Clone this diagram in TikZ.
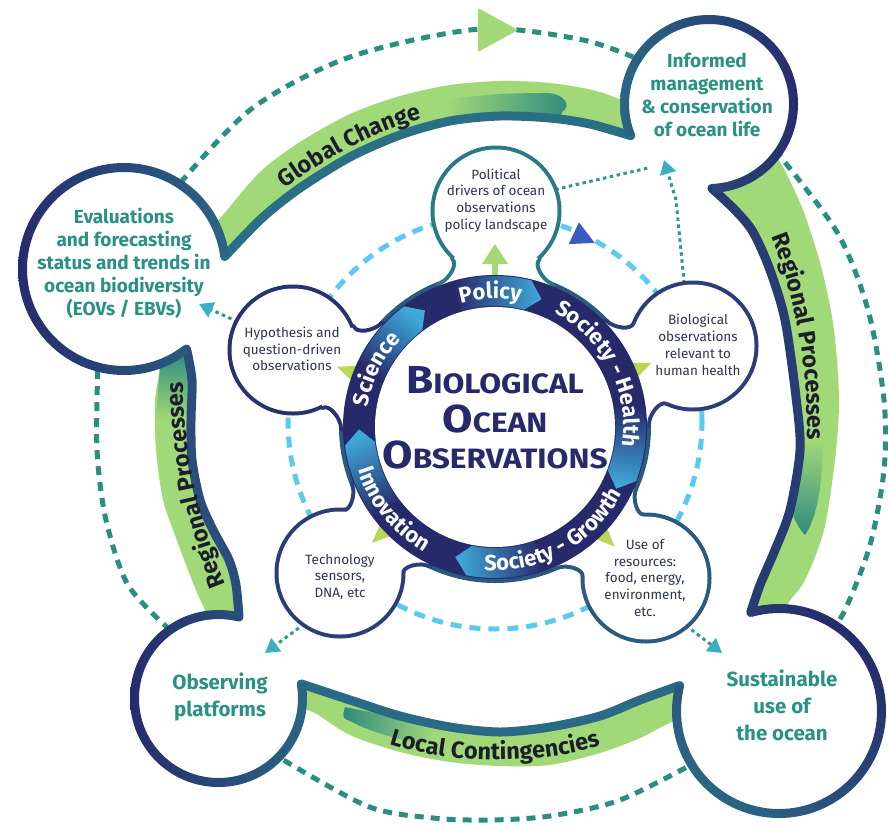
\documentclass[tikz,border=0pt]{standalone}
\usepackage{fontspec}
\setmainfont{Fira Sans}
\usetikzlibrary{decorations.text,arrows.meta,calc}
\definecolor{navy}{HTML}{262C6B}
\definecolor{steel}{HTML}{2B6684}
\definecolor{tealtxt}{HTML}{2A9282}
\definecolor{bandgreen}{HTML}{A2D978}
\definecolor{chevteal}{HTML}{2E8A80}
\definecolor{dashteal}{HTML}{2A8F80}
\definecolor{dotteal}{HTML}{2A9A8E}
\definecolor{ltblue}{HTML}{5CCAF0}
\definecolor{cyanhead}{HTML}{3AAFC4}
\definecolor{lime}{HTML}{BAD654}
\definecolor{lgreen}{HTML}{A3D977}
\definecolor{bluehead}{HTML}{3A5CC0}
\definecolor{ringnavy}{HTML}{262A6B}
\definecolor{ringlight}{HTML}{3FA9DA}
\definecolor{ringout}{HTML}{2B5A7E}
\definecolor{bubtxt}{HTML}{2E3552}
\definecolor{bandtxt}{HTML}{1B1D2B}
\definecolor{polc}{HTML}{2A7A86}
\definecolor{bioc}{HTML}{2C3D79}
\definecolor{usec}{HTML}{2B5A80}
\definecolor{techc}{HTML}{2B3E78}
\definecolor{hypc}{HTML}{283270}
\definecolor{gcb}{HTML}{2A6F84}
\definecolor{rrb}{HTML}{283C74}
\definecolor{lcb}{HTML}{2A6A85}
\definecolor{rlb}{HTML}{2B4D7C}
\newcommand\bandfont{\fontsize{23.5}{23.5}\selectfont\bfseries\color{bandtxt}}
\newcommand\ringfont{\fontsize{22}{22}\selectfont\bfseries\color{white}}
\newcommand\capsc[2]{\scalebox{1.13}[1]{{\fontsize{39}{39}\selectfont #1}{\fontsize{28}{28}\selectfont #2}}}
\begin{document}
\begin{tikzpicture}[x=1pt,y=1pt,line join=round,
  outerdash/.style={draw=dashteal, line width=5pt, dash pattern=on 9pt off 7pt},
  innerdash/.style={draw=ltblue, line width=5pt, dash pattern=on 11pt off 8pt},
  dotline/.style={draw=dotteal, line width=3pt, dash pattern=on 3.5pt off 3.5pt},
  dotarrow/.style={dotline, -{Triangle[length=14pt,width=16pt,color=cyanhead,fill=cyanhead]}},
  bandborder/.style={line width=9pt, line cap=round},
  bigtxt/.style={font=\fontsize{19}{23}\selectfont\bfseries, text=tealtxt, align=center},
  bigtxtL/.style={font=\fontsize{20.5}{27}\selectfont\bfseries, text=tealtxt, align=center},
  bubtext/.style={font=\fontsize{13.5}{16.8}\selectfont, text=bubtxt, align=center},
  ringtext/.style={decorate, decoration={text along path, text align=center, text={|\ringfont|#1}}},
  bandtext/.style={decorate, decoration={text along path, text align=center, text={|\bandfont|#1}}}
]
\useasboundingbox (0,0) rectangle (888,-825);
\fill[white] (0,0) rectangle (888,-825);

\coordinate (C) at (495,-427);
\coordinate (CD) at (495,-422);
\coordinate (ev) at (124,-269);
\coordinate (inf) at (709,-104);
\coordinate (sus) at (779,-711);
\coordinate (obs) at (218.5,-698.5);
\coordinate (pol) at (496,-211);
\coordinate (bio) at (693,-346);
\coordinate (use) at (646,-578);
\coordinate (tech) at (340,-573);
\coordinate (hyp) at (293,-350);

% ---------- outer dashed connectors
\draw[outerdash] plot[smooth] coordinates {(170,-195) (250,-110) (350,-57) (480,-29) (583,-40) (645,-62)};
\draw[outerdash] plot[smooth] coordinates {(775,-150) (837,-232) (868,-310) (884,-400) (884,-470) (870,-545) (845,-610) (825,-640)};
\draw[outerdash] plot[smooth] coordinates {(700,-760) (620,-800) (550,-816) (490,-820) (433,-818) (367,-806) (275,-755)};
\draw[outerdash] plot[smooth] coordinates {(170,-630) (128,-585) (106,-520) (97,-450) (98,-360)};
\fill[lgreen, rounded corners=2pt] (478,-8) -- (518,-30) -- (478,-52) -- cycle;

% ---------- green bands
\fill[bandgreen] plot[smooth] coordinates {(200,-240) (222,-216) (260,-172) (300,-142) (350,-114) (400,-96) (450,-85) (500,-81) (550,-83) (600,-92) (650,-112)}
  -- plot[smooth] coordinates {(630.7,-135.7) (590,-124) (550,-118) (500,-116) (450,-121) (400,-135) (350,-157) (300,-188) (262,-218) (224.7,-256.6)} -- cycle;
\fill[bandgreen] plot[smooth] coordinates {(760,-140) (780,-162) (803,-210) (822,-270) (834,-330) (839,-400) (835,-460) (824,-530) (805,-580) (788,-604) (782,-630)}
  -- plot[smooth] coordinates {(750.7,-612.5) (760,-585) (775,-550) (790,-510) (800,-450) (796,-397) (785,-320) (770,-270) (753,-232) (735,-210) (711.9,-188.4)} -- cycle;
\fill[bandgreen] plot[smooth] coordinates {(293,-708) (313,-712) (350,-735) (400,-752) (450,-762) (500,-766) (550,-765) (600,-753) (640,-738) (672,-722) (700,-716)}
  -- plot[smooth] coordinates {(679.7,-685.5) (640,-700) (600,-716) (550,-727) (500,-732) (450,-727) (400,-716) (350,-700) (301.2,-683.9)} -- cycle;
\fill[bandgreen] plot[smooth] coordinates {(150,-330) (160,-362) (155,-400) (156,-450) (163,-500) (175,-535) (186,-565) (198,-595) (205,-610) (215,-635)}
  -- plot[smooth] coordinates {(239,-617) (236,-585) (229,-560) (213,-530) (200,-500) (192,-460) (191,-420) (192,-380) (186.5,-349)} -- cycle;
% band chevrons
\shade[left color=bandgreen, right color=chevteal] plot[smooth] coordinates {(445,-99) (500,-94) (545,-93)} .. controls (565,-93) and (572,-106) .. (562,-112) -- plot[smooth] coordinates {(560,-119) (500,-117) (445,-122)} -- cycle;
\shade[top color=bandgreen, bottom color=chevteal] (799,-440) -- (823,-440) .. controls (822,-495) and (815,-520) .. (805,-535) .. controls (798,-528) and (792,-515) .. (790,-505) -- cycle;
\shade[left color=chevteal, right color=bandgreen] (345,-707) .. controls (370,-712) and (400,-718) .. (435,-724) -- (435,-746) .. controls (400,-740) and (370,-732) .. (352,-722) .. controls (342,-718) .. cycle;
\shade[top color=chevteal, bottom color=bandgreen] (160,-365) .. controls (165,-352) and (180,-350) .. (190,-362) -- (191,-420) -- (156,-420) -- cycle;

% white interiors of the big bulges
\fill[white] (ev) circle (97);
\fill[white] (inf) circle (80);
\fill[white] (sus) circle (98);
\fill[white] (obs) circle (79.5);

% band borders
\draw[bandborder, draw=gcb] plot[smooth] coordinates {(224.7,-256.6) (262,-218) (300,-188) (350,-157) (400,-135) (450,-121) (500,-116) (550,-118) (590,-124) (630.7,-135.7)};
\draw[bandborder, draw=rrb] plot[smooth] coordinates {(711.9,-188.4) (735,-210) (753,-232) (770,-270) (785,-320) (796,-397) (800,-450) (790,-510) (775,-550) (760,-585) (750.7,-612.5)};
\draw[bandborder, draw=lcb] plot[smooth] coordinates {(679.7,-685.5) (640,-700) (600,-716) (550,-727) (500,-732) (450,-727) (400,-716) (350,-700) (301.2,-683.9)};
\draw[bandborder, draw=rlb] plot[smooth] coordinates {(186.5,-349) (192,-380) (191,-420) (192,-460) (200,-500) (213,-530) (229,-560) (236,-585) (239,-617)};

% outer arcs of bulges
\begin{scope}
  \clip (ev) -- ++(7:140) arc[start angle=7, end angle=308, radius=140] -- cycle;
  \shade[left color=navy, right color=steel, even odd rule] (ev) circle (106) (ev) circle (97);
\end{scope}
\begin{scope}
  \clip (inf) -- ++(-88:120) arc[start angle=-88, end angle=202, radius=120] -- cycle;
  \shade[left color=steel, right color=navy, even odd rule] (inf) circle (89) (inf) circle (80);
\end{scope}
\begin{scope}
  \clip (sus) -- ++(165.6:140) arc[start angle=165.6, end angle=466, radius=140] -- cycle;
  \shade[left color=steel, right color=navy, shading angle=135, even odd rule] (sus) circle (107) (sus) circle (98);
\end{scope}
\begin{scope}
  \clip (obs) -- ++(75.9:120) arc[start angle=75.9, end angle=370, radius=120] -- cycle;
  \shade[left color=navy, right color=steel, even odd rule] (obs) circle (88.5) (obs) circle (79.5);
\end{scope}

% band labels
\path[bandtext={Global Change}] (260,-207) .. controls (320,-160) and (380,-125) .. (452,-111);
\path[bandtext={Regional Processes}] (755,-200) .. controls (792,-270) and (814,-370) .. (806,-480);
\path[bandtext={Local Contingencies}] (340,-722) .. controls (420,-772) and (570,-772) .. (650,-725);
\path[bandtext={Regional Processes}] (234,-605) .. controls (195,-520) and (180,-430) .. (184,-360);

% bulge texts
\node[bigtxt] (evt) at (124,-263) {Evaluations\\and forecasting\\status and trends in\\ocean biodiversity\\(EOVs / EBVs)};
\node[bigtxt] (inft) at (707,-95) {Informed\\management\\\& conservation\\of ocean life};
\node[bigtxtL] (sust) at (782,-705) {Sustainable\\use of\\the ocean};
\node[bigtxtL] (obst) at (220,-697) {Observing\\platforms};

% ---------- inner dashed circle
\draw[innerdash] (CD) circle (207);
\begin{scope}[shift={(582,-237)}, rotate=-25]
  \fill[bluehead] (14,0) -- (-9,12) -- (-9,-12) -- cycle;
\end{scope}

% dotted connectors
\draw[dotline] ([shift={(20:63)}]pol) -- (648,-168);
\draw[dotarrow] ([shift={(98:63)}]bio) -- (676,-200) -- (664,-160);
\draw[dotarrow] ([shift={(153:62)}]hyp) -- (199,-304);
\draw[dotarrow] ([shift={(235:62)}]tech) -- (265,-653);
\draw[dotarrow] ([shift={(-50:62)}]use) -- (722,-653);

% ---------- bubbles + ring (union outline)
\draw[line width=8pt, draw=ringout] (C) circle (152);
\foreach \a/\p/\col in {89.7/pol/polc, 22.25/bio/bioc, -45/use/usec, 223.3/tech/techc, 159.1/hyp/hypc} {
  \draw[line width=8pt, draw=\col] (\p) circle (61.5);
  \begin{scope}[shift={(495,-427)}, rotate=\a]
    \draw[line width=8pt, draw=\col] (141.7,-55) .. controls (145.3,-45.7) and (162.3,-34.7) .. (169.1,-42) -- (190,0) -- (169.1,42) .. controls (162.3,34.7) and (145.3,45.7) .. (141.7,55) -- (120,0) -- cycle;
  \end{scope}
}
\foreach \a/\p in {89.7/pol, 22.25/bio, -45/use, 223.3/tech, 159.1/hyp} {
  \fill[white] (\p) circle (61.5);
  \begin{scope}[shift={(495,-427)}, rotate=\a]
    \fill[white] (141.7,-55) .. controls (145.3,-45.7) and (162.3,-34.7) .. (169.1,-42) -- (190,0) -- (169.1,42) .. controls (162.3,34.7) and (145.3,45.7) .. (141.7,55) -- (120,0) -- cycle;
  \end{scope}
}
% small arrowheads from ring to bubbles
\foreach \a in {22.25,-45,223.3,159.1} {
  \begin{scope}[shift={(495,-427)}, rotate=\a]
    \fill[lime] (148,-9) -- (169,0) -- (148,9) -- cycle;
  \end{scope}
}
\fill[lgreen] (492,-280) rectangle (498,-262);
\fill[lgreen] (482,-264) -- (508,-264) -- (495,-244) -- cycle;

% ring
\fill[ringnavy] (C) circle (152);
\foreach \t in {76,-21,259,187,127} {
  \pgfmathsetmacro\sa{\t+15}
  \shade[left color=ringnavy, right color=ringlight, shading angle=\sa]
    ([shift={(\t+30:151)}]C) arc[start angle=\t+30, end angle=\t, radius=151]
    -- ([shift={(\t-6:136)}]C) -- ([shift={(\t:121)}]C)
    arc[start angle=\t, end angle=\t+30, radius=121] -- cycle;
}
\fill[white] (C) circle (120);
\path[ringtext={Policy}] ([shift={(152:128.5)}]C) arc[start angle=152, end angle=32, radius=128.5];
\path[ringtext={Science}] ([shift={(214:128.5)}]C) arc[start angle=214, end angle=94, radius=128.5];
\path[ringtext={Society - Health}] ([shift={(87:128.5)}]C) arc[start angle=87, end angle=-33, radius=128.5];
\path[ringtext={Innovation}] ([shift={(159:143.5)}]C) arc[start angle=159, end angle=279, radius=143.5];
\path[ringtext={Society - Growth}] ([shift={(239:143.5)}]C) arc[start angle=239, end angle=359, radius=143.5];

\node[anchor=base, text=ringnavy, font=\bfseries] (t1) at (495,-393) {\capsc{B}{IOLOGICAL}};
\node[anchor=base, text=ringnavy, font=\bfseries] (t2) at (495,-432) {\capsc{O}{CEAN}};
\node[anchor=base, text=ringnavy, font=\bfseries] (t3) at (495,-468) {\capsc{O}{BSERVATIONS}};

% bubble texts
\node[bubtext] (polt) at (496,-200.5) {Political\\drivers of ocean\\observations\\policy landscape};
\node[bubtext] (biot) at (698,-345) {Biological\\observations\\relevant to\\human health};
\node[bubtext] (uset) at (645,-578) {Use of\\resources:\\food, energy,\\environment,\\etc.};
\node[bubtext] (techt) at (340,-577) {Technology\\sensors,\\DNA, etc};
\node[bubtext] (hypt) at (292,-349) {Hypothesis and\\question-driven\\observations};
\end{tikzpicture}
\end{document}
